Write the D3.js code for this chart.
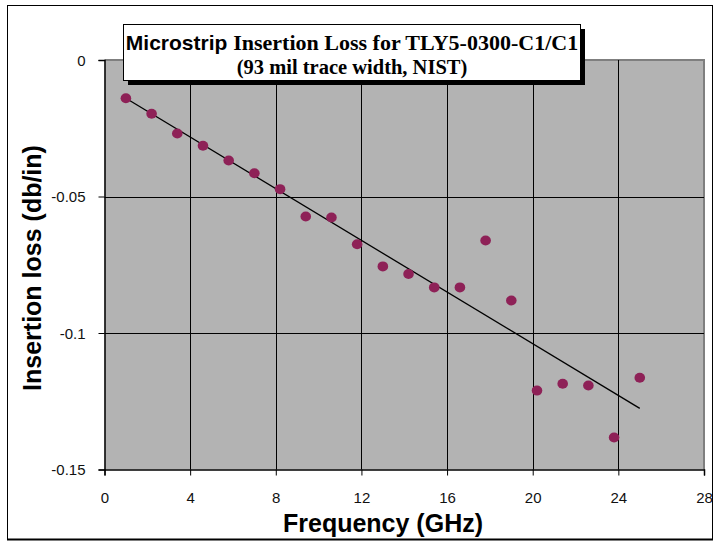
<!DOCTYPE html>
<html><head><meta charset="utf-8">
<script src="https://cdn.jsdelivr.net/npm/d3@7"></script>
<style>body{margin:0;background:#fff}svg{display:block}</style>
</head><body>
<svg id="c" width="715" height="544"></svg>
<script>
const freqGHz = [1.0, 2.2, 3.4, 4.6, 5.8, 7.0, 8.2, 9.4, 10.6, 11.8, 13.0, 14.2, 15.4, 16.6, 17.8, 19.0, 20.2, 21.4, 22.6, 23.8, 25.0];
const lossDbPerIn = [-0.0140, -0.0197, -0.0269, -0.0314, -0.0368, -0.0415, -0.0473, -0.0573, -0.0577, -0.0675, -0.0756, -0.0784, -0.0833, -0.0833, -0.0661, -0.0881, -0.1211, -0.1186, -0.1192, -0.1383, -0.1164];
const trendFreq = [1.0, 25.0];
const trendLoss = [-0.0140, -0.1276];
const xTicks = [0, 4, 8, 12, 16, 20, 24, 28];
const yTicks = [0, -0.05, -0.1, -0.15];
const yTickLabels = ["0", "-0.05", "-0.1", "-0.15"];
const titleLine1a = "Microstrip ";
const titleLine1b = "Insertion Loss for TLY5-0300-C1/C1";
const titleLine2 = "(93 mil trace width, NIST)";
const xTitle = "Frequency (GHz)";
const yTitle = "Insertion loss (db/in)";

const svg = d3.select("#c");
const L = 104.5, R = 704, T = 60, B = 469.5;
const x = d3.scaleLinear().domain([0, 28]).range([L, R]);
const y = d3.scaleLinear().domain([-0.15, 0]).range([B, T]);
const sans = "Liberation Sans, Arial, sans-serif";
const serif = "Liberation Serif, Times New Roman, serif";

// chart border
svg.append("rect").attr("x", 7.5).attr("y", 5.5).attr("width", 705).attr("height", 534)
  .attr("fill", "#fff").attr("stroke", "#000").attr("stroke-width", 1);
svg.append("line").attr("x1", 7).attr("x2", 713).attr("y1", 539.5).attr("y2", 539.5)
  .attr("stroke", "#000").attr("stroke-width", 2);

// plot area
svg.append("rect").attr("x", L).attr("y", T).attr("width", R - L).attr("height", B - T)
  .attr("fill", "#b3b3b3");
svg.append("path").attr("d", `M${L},${T}H${R}V${B}`).attr("fill", "none")
  .attr("stroke", "#7f7f7f").attr("stroke-width", 2);

// gridlines
const g = svg.append("g");
g.selectAll("line.vg").data(xTicks.filter(d => d > 0 && d < 28)).enter().append("line")
  .attr("x1", d => Math.round(x(d)) + 0.5).attr("x2", d => Math.round(x(d)) + 0.5)
  .attr("y1", T).attr("y2", B).attr("stroke", "#000").attr("stroke-width", 1);
g.selectAll("line.hg").data(yTicks.filter(d => d < 0 && d > -0.15)).enter().append("line")
  .attr("x1", L).attr("x2", R).attr("y1", d => Math.round(y(d)) + 0.5).attr("y2", d => Math.round(y(d)) + 0.5)
  .attr("stroke", "#000").attr("stroke-width", 1);

// axes
const xAxis = d3.axisBottom(x).tickValues(xTicks).tickSize(6).tickPadding(17).tickFormat(d3.format("d"));
const yAxis = d3.axisLeft(y).tickValues(yTicks).tickSize(6).tickPadding(13).tickFormat((d, i) => yTickLabels[i]);
const gx = svg.append("g").attr("transform", `translate(0,${B})`).call(xAxis);
const gy = svg.append("g").attr("transform", `translate(${L},0)`).call(yAxis);
[gx, gy].forEach(a => {
  a.select(".domain").attr("stroke", "#000").attr("stroke-width", 1.5);
  a.selectAll(".tick line").attr("stroke", "#000");
  a.selectAll("text").attr("font-family", sans).attr("font-size", 15).attr("fill", "#111");
});
gy.selectAll("text").attr("dy", "0.35em");

// trendline
const line = d3.line().x(d => x(d[0])).y(d => y(d[1]));
svg.append("path").datum(d3.zip(trendFreq, trendLoss)).attr("d", line)
  .attr("fill", "none").attr("stroke", "#000").attr("stroke-width", 1.3);

// points
svg.selectAll("ellipse.pt").data(d3.zip(freqGHz, lossDbPerIn)).enter().append("ellipse")
  .attr("cx", d => x(d[0])).attr("cy", d => y(d[1])).attr("rx", 5.3).attr("ry", 5)
  .attr("fill", "#8e2157");

// title box with shadow
svg.append("rect").attr("x", 128).attr("y", 29).attr("width", 457).attr("height", 56).attr("fill", "#000");
svg.append("rect").attr("x", 123.5).attr("y", 24.5).attr("width", 457).attr("height", 56)
  .attr("fill", "#fff").attr("stroke", "#000").attr("stroke-width", 1);
const t1 = svg.append("text").attr("x", 352).attr("y", 50).attr("text-anchor", "middle")
  .attr("font-weight", "bold").attr("fill", "#000");
t1.append("tspan").attr("font-family", sans).attr("font-size", 21).text(titleLine1a);
t1.append("tspan").attr("font-family", serif).attr("font-size", 22).text(titleLine1b);
svg.append("text").attr("x", 352).attr("y", 74).attr("text-anchor", "middle")
  .attr("font-family", serif).attr("font-weight", "bold").attr("font-size", 20.5)
  .attr("fill", "#000").text(titleLine2);

// axis titles
svg.append("text").attr("x", 383).attr("y", 532).attr("text-anchor", "middle")
  .attr("font-family", sans).attr("font-weight", "bold")
  .attr("font-size", 25).attr("fill", "#000").text(xTitle);
svg.append("text").attr("transform", `translate(41,268) rotate(-90)`).attr("text-anchor", "middle")
  .attr("font-family", sans).attr("font-weight", "bold")
  .attr("font-size", 25).attr("fill", "#000").text(yTitle);
</script>
</body></html>
